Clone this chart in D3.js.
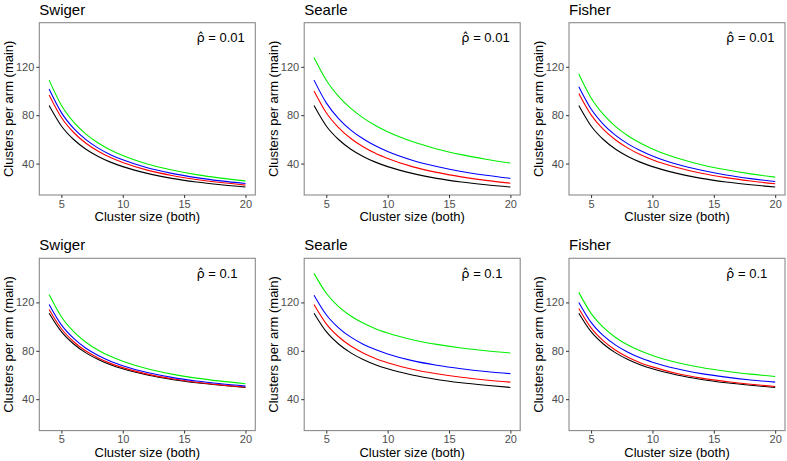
<!DOCTYPE html>
<html><head><meta charset="utf-8">
<script src="https://cdn.jsdelivr.net/npm/d3@7"></script>
<style>
body{margin:0;background:#fff}
text{font-family:"Liberation Sans",Arial,sans-serif}
</style>
</head><body><svg id="c" width="787" height="461"></svg>
<script>
// ---- data ----
const clusterSize = [4,5,6,7,8,9,10,12,14,16,18,20];
const xTicks = [5,10,15,20];
const yTicks = [40,80,120];
const methods = ["Swiger","Searle","Fisher"];
const rhoLabels = ["0.01","0.1"];
const seriesColors = ["#00ee00","#0000ff","#ff0000","#000000"]; // green, blue, red, black

// rho-hat = 0.01
const swiger01Green = [109,88.2,74.3,64.4,57.0,51.2,46.6,39.6,34.7,30.9,28.0,25.7];
const swiger01Blue  = [101.6,82.1,69.1,59.8,52.8,47.4,43.1,36.5,31.9,28.4,25.7,23.5];
const swiger01Red   = [96.7,78.1,65.7,56.8,50.2,45.0,40.9,34.6,30.2,26.9,24.3,22.2];
const swiger01Black = [88.0,71.1,59.9,51.9,45.9,41.2,37.5,31.9,27.8,24.8,22.5,20.6];

const searle01Green = [127.7,108.9,95.6,85.6,77.8,71.5,66.3,58.2,52.1,47.4,43.6,40.4];
const searle01Blue  = [109,90.2,77.2,67.7,60.5,54.7,50.0,42.8,37.6,33.5,30.4,27.8];
const searle01Red   = [100,82.0,69.7,60.7,53.9,48.5,44.2,37.5,32.7,29.0,26.1,23.8];
const searle01Black = [88.0,71.1,59.9,51.9,45.9,41.2,37.5,31.9,27.8,24.8,22.5,20.6];

const fisher01Green = [114,94.2,80.6,70.6,63.0,57.0,52.1,44.6,39.1,34.9,31.5,28.8];
const fisher01Blue  = [103.5,85.1,72.5,63.3,56.3,50.8,46.3,39.4,34.5,30.6,27.6,25.2];
const fisher01Red   = [98,80.3,68.2,59.5,52.8,47.5,43.2,36.7,32.0,28.4,25.6,23.3];
const fisher01Black = [88.0,71.1,59.9,51.9,45.9,41.2,37.5,31.9,27.8,24.8,22.5,20.6];

// rho-hat = 0.1
const swiger1Green = [126.6,108.2,95.9,87.1,80.5,75.4,71.3,65.1,60.7,57.4,54.9,52.8];
const swiger1Blue  = [118.3,101.4,90.2,82.1,76.1,71.4,67.7,62.0,58.0,55.0,52.7,50.8];
const swiger1Red   = [114.2,98.2,87.5,79.8,74.1,69.6,66.1,60.7,56.9,54.0,51.8,50.0];
const swiger1Black = [111.1,95.8,85.6,78.3,72.8,68.5,65.1,60.0,56.3,53.6,51.5,49.7];

const searle1Green = [144,127.6,116.6,108.8,102.9,98.3,94.7,89.2,85.3,82.3,80.0,78.2];
const searle1Blue  = [126,109.8,99.0,91.3,85.5,81.0,77.4,71.9,68.1,65.2,62.9,61.1];
const searle1Red   = [118.3,102.3,91.6,83.9,78.2,73.7,70.2,64.8,61.0,58.1,55.9,54.1];
const searle1Black = [111.1,95.8,85.6,78.3,72.8,68.5,65.1,60.0,56.3,53.6,51.5,49.7];

const fisher1Green = [128.3,110.9,99.3,91.0,84.8,80.0,76.2,70.4,66.2,63.1,60.7,58.8];
const fisher1Blue  = [120,103.5,92.5,84.7,78.8,74.2,70.6,65.1,61.1,58.2,55.9,54.1];
const fisher1Red   = [115,98.9,88.2,80.5,74.7,70.2,66.7,61.3,57.4,54.6,52.3,50.5];
const fisher1Black = [111.1,95.8,85.6,78.3,72.8,68.5,65.1,60.0,56.3,53.6,51.5,49.7];

const panelSeries = [
  [[swiger01Green,swiger01Blue,swiger01Red,swiger01Black],
   [searle01Green,searle01Blue,searle01Red,searle01Black],
   [fisher01Green,fisher01Blue,fisher01Red,fisher01Black]],
  [[swiger1Green,swiger1Blue,swiger1Red,swiger1Black],
   [searle1Green,searle1Blue,searle1Red,searle1Black],
   [fisher1Green,fisher1Blue,fisher1Red,fisher1Black]]
];

// ---- layout ----
const svg = d3.select("#c");
const colLeft = [39.3, 304.2, 569.0];
const rowTop = [22.7, 258.3];
const pw = 216, ph = 172.3;
const xDataMin = 4, xDataMax = 20, yDataMin = 20.5, yDataMax = 150;
const xe = (xDataMax - xDataMin) * 0.05, ye = (yDataMax - yDataMin) * 0.05;

rowTop.forEach((top, r) => {
  colLeft.forEach((left, c) => {
    const g = svg.append("g").attr("transform", `translate(${left},${top})`);
    const x = d3.scaleLinear().domain([xDataMin - xe, xDataMax + xe]).range([0, pw]);
    const y = d3.scaleLinear().domain([yDataMin - ye, yDataMax + ye]).range([ph, 0]);

    const line = d3.line().x((d, i) => x(clusterSize[i])).y(d => y(d)).curve(d3.curveMonotoneX);
    const ser = panelSeries[r][c];
    [3, 2, 1, 0].forEach(k => {
      g.append("path").datum(ser[k]).attr("d", line)
        .attr("fill", "none").attr("stroke", seriesColors[k]).attr("stroke-width", 1.1);
    });

    g.append("rect").attr("x", 0).attr("y", 0).attr("width", pw).attr("height", ph)
      .attr("fill", "none").attr("stroke", "#8a8a8a").attr("stroke-width", 1.1);

    const xa = g.append("g").attr("transform", `translate(0,${ph})`)
      .call(d3.axisBottom(x).tickValues(xTicks).tickSize(3).tickPadding(2));
    const ya = g.append("g")
      .call(d3.axisLeft(y).tickValues(yTicks).tickSize(3).tickPadding(2));
    [xa, ya].forEach(a => {
      a.select(".domain").remove();
      a.selectAll(".tick line").attr("stroke", "#333").attr("stroke-width", 1);
      a.selectAll(".tick text").attr("fill", "#4d4d4d").style("font-size", "11px")
        .style("font-family", '"Liberation Sans",Arial,sans-serif');
    });

    g.append("text").attr("x", 0).attr("y", -8).text(methods[c])
      .style("font-size", "15px").attr("fill", "#000");
    g.append("text").attr("x", pw / 2).attr("y", ph + 26.5).attr("text-anchor", "middle")
      .text("Cluster size (both)").style("font-size", "13px");
    g.append("text").attr("transform", `translate(${-26},${ph / 2}) rotate(-90)`)
      .attr("text-anchor", "middle").text("Clusters per arm (main)").style("font-size", "13px");

    // annotation: rho-hat = value (single text, combining circumflex)
    const ann = g.append("text").attr("x", x(16)).attr("y", y(140.5)).style("font-size", "13px");
    ann.append("tspan").style("font-family", '"DejaVu Sans",sans-serif').text("\u03C1\u0302");
    ann.append("tspan").text(" = " + rhoLabels[r]);
  });
});
</script>
</body></html>
